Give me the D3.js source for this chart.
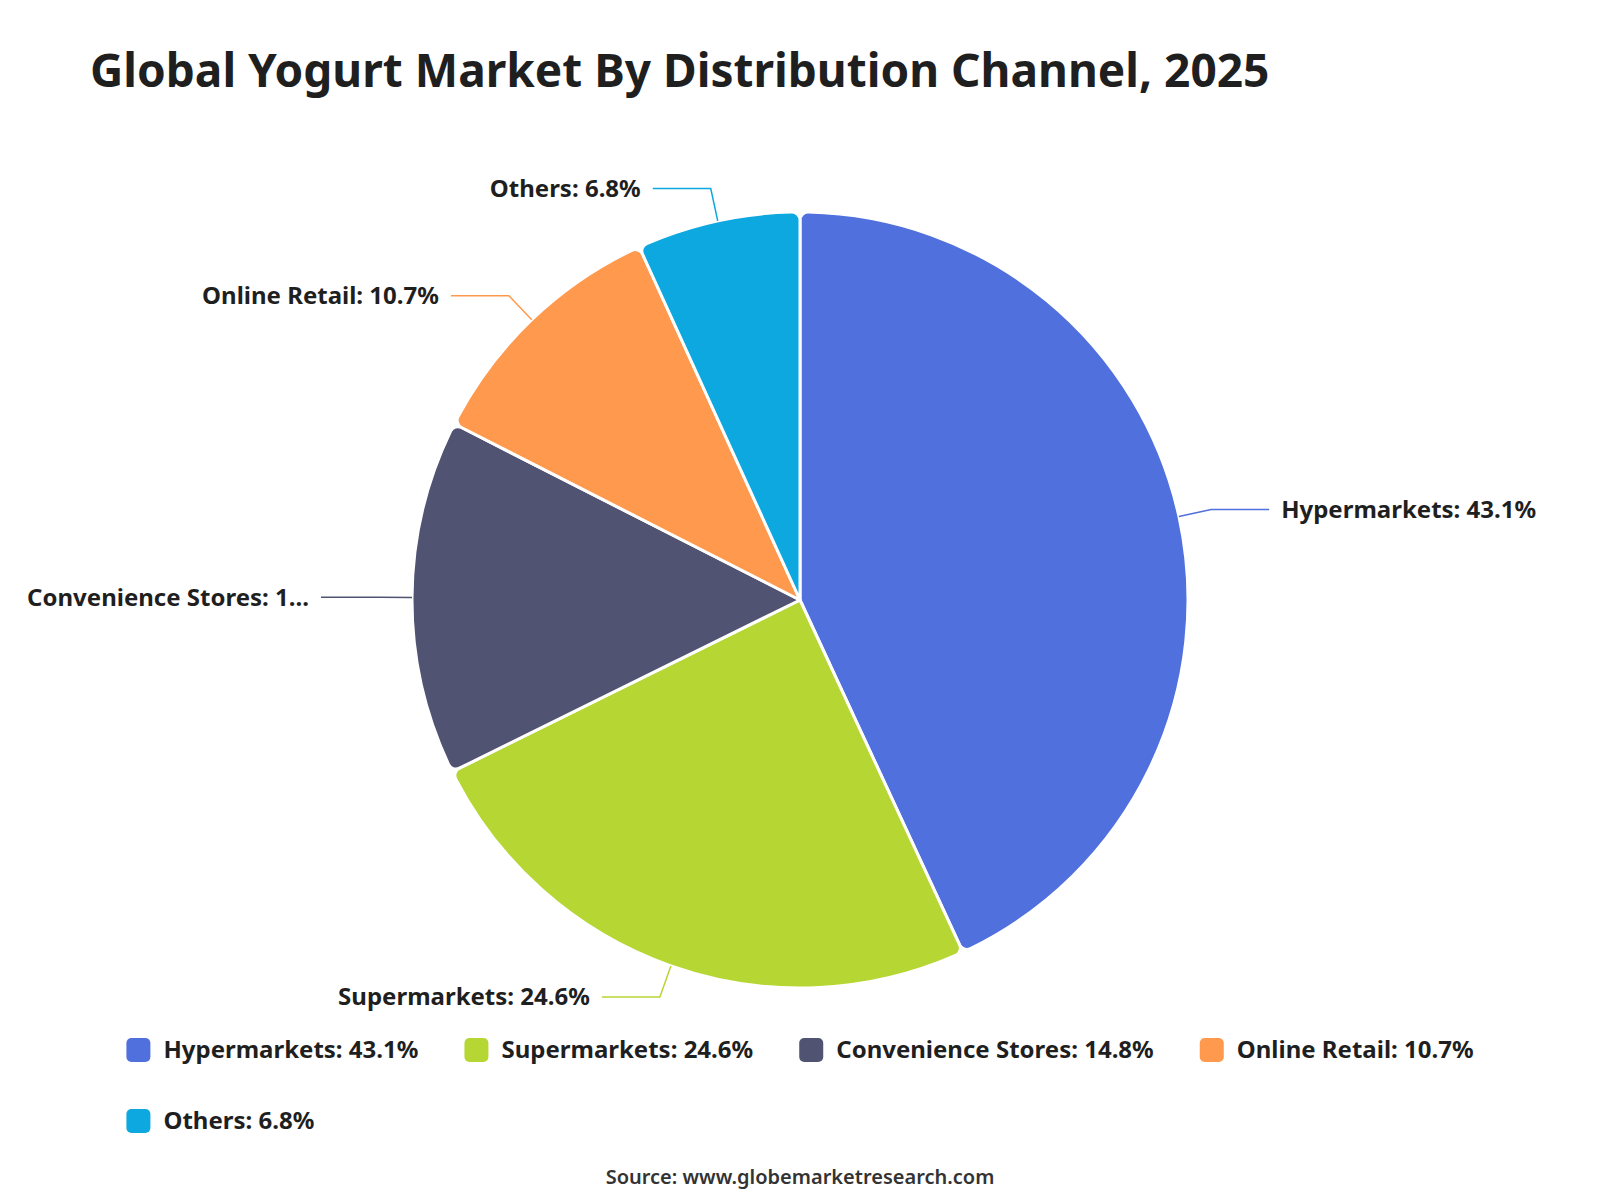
<!DOCTYPE html>
<html>
<head>
<meta charset="utf-8">
<script src="https://cdn.jsdelivr.net/npm/d3@7/dist/d3.min.js"></script>
<style>
  html, body { margin: 0; padding: 0; background: #fff; }
  svg { display: block; font-family: "Noto Sans", "Open Sans", sans-serif; }
</style>
</head>
<body>
<svg id="chart" width="1600" height="1200"></svg>
<script>
const categories = ['Hypermarkets', 'Supermarkets', 'Convenience Stores', 'Online Retail', 'Others'];
const shares = [43.1, 24.6, 14.8, 10.7, 6.8];
const colors = ['#5070dd', '#b6d634', '#505372', '#ff994d', '#0ca8df'];

const W = 1600, H = 1200;
const cx = 800, cy = 600, radius = 388;
const len1 = 33, len2 = 58;
const labelSize = 24;

const svg = d3.select('#chart');

svg.append('text')
  .attr('x', 90).attr('y', 87)
  .attr('font-size', 46).attr('font-weight', 700).attr('fill', '#1f1f1f')
  .text('Global Yogurt Market By Distribution Channel, 2025');

const data = categories.map((c, i) => ({ name: c, value: shares[i], color: colors[i] }));
const label = d => `${d.name}: ${d.value}%`;

const pie = d3.pie().sort(null).value(d => d.value);
const arcs = pie(data);
const arc = d3.arc().innerRadius(0).outerRadius(radius).cornerRadius(8);

const g = svg.append('g').attr('transform', `translate(${cx},${cy})`);

g.selectAll('path.slice')
  .data(arcs)
  .join('path')
  .attr('class', 'slice')
  .attr('d', arc)
  .attr('fill', d => d.data.color)
  .attr('stroke', '#fff')
  .attr('stroke-width', 3)
  .attr('stroke-linejoin', 'round');

// leader lines + labels
arcs.forEach(a => {
  const mid = (a.startAngle + a.endAngle) / 2;
  const sx = Math.sin(mid), sy = -Math.cos(mid);
  const p1 = [radius * sx, radius * sy];
  const p2 = [(radius + len1) * sx, (radius + len1) * sy];
  const right = sx >= 0;
  const p3 = [p2[0] + (right ? len2 : -len2), p2[1]];

  g.append('polyline')
    .attr('points', [p1, p2, p3].map(p => p.join(',')).join(' '))
    .attr('fill', 'none')
    .attr('stroke', a.data.color)
    .attr('stroke-width', 1.5);

  const tx = p3[0] + (right ? 12 : -12);
  const t = g.append('text')
    .attr('x', tx).attr('y', p3[1])
    .attr('dy', '0.35em')
    .attr('text-anchor', right ? 'start' : 'end')
    .attr('font-size', labelSize).attr('font-weight', 700).attr('fill', '#1f1f1f')
    .text(label(a.data));

  // truncate when the label runs past the page margin
  const avail = right ? (W - 24) - (cx + tx) : (cx + tx) - 24;
  let s = label(a.data);
  while (t.node().getComputedTextLength() > avail && s.length > 1) {
    s = s.slice(0, -1);
    t.text(s.trimEnd() + '...');
  }
});

// legend
const legend = svg.append('g');
const iconSize = 24, iconGap = 13, itemGap = 46, rowH = 71, maxW = 1400;
const items = data.map(d => {
  const it = legend.append('g');
  it.append('rect')
    .attr('width', iconSize).attr('height', iconSize)
    .attr('rx', 5).attr('fill', d.color);
  const tt = it.append('text')
    .attr('x', iconSize + iconGap).attr('y', iconSize / 2).attr('dy', '0.35em')
    .attr('font-size', labelSize).attr('font-weight', 700).attr('fill', '#1f1f1f')
    .text(label(d));
  return { it, w: iconSize + iconGap + tt.node().getComputedTextLength() };
});

const rows = [[]];
let rowW = 0;
items.forEach(item => {
  const add = (rows[rows.length - 1].length ? itemGap : 0) + item.w;
  if (rowW + add > maxW && rows[rows.length - 1].length) {
    rows.push([item]); rowW = item.w;
  } else {
    rows[rows.length - 1].push(item); rowW += add;
  }
});
const widths = rows.map(r => d3.sum(r, d => d.w) + itemGap * (r.length - 1));
const left = (W - d3.max(widths)) / 2;
rows.forEach((r, ri) => {
  let x = left;
  r.forEach(item => {
    item.it.attr('transform', `translate(${x},${1038 + ri * rowH})`);
    x += item.w + itemGap;
  });
});

svg.append('text')
  .attr('x', W / 2).attr('y', 1177).attr('dy', '0.35em')
  .attr('text-anchor', 'middle')
  .attr('font-size', 20).attr('font-weight', 600).attr('fill', '#333')
  .text('Source: www.globemarketresearch.com');
</script>
</body>
</html>
